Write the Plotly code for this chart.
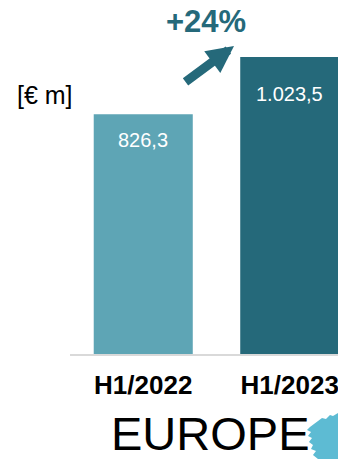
import plotly.graph_objects as go

# Revenue by half-year, Europe segment (EUR millions)
periods = ["H1/2022", "H1/2023"]
revenue = [826.3, 1023.5]
value_labels = ["826,3", "1.023,5"]
growth_label = "+24%"
unit_label = "[€ m]"
region_label = "EUROPE"

bar_colors = ["#5EA5B5", "#25697A"]
accent = "#25697A"

W, H = 338, 459
ML, MT, MB = 70, 0, 105
PW, PH = W - ML, H - MT - MB


def px(x, y):
    """Pixel position on the page -> paper coordinates."""
    return (x - ML) / PW, (H - MB - y) / PH


fig = go.Figure(
    go.Bar(
        x=periods,
        y=revenue,
        marker=dict(color=bar_colors, line=dict(width=0)),
        hoverinfo="skip",
    )
)

annotations = []
# value labels inside the bars
for p, v, lab, shift in zip(periods, revenue, value_labels, [-26, -37]):
    annotations.append(dict(
        x=p, y=v, xref="x", yref="y", text=lab, showarrow=False,
        xanchor="center", yanchor="middle", yshift=shift,
        font=dict(family="Liberation Sans, Arial", size=20, color="white"),
    ))

# growth arrow and label
tx, ty = px(234, 46)
annotations.append(dict(
    x=tx, y=ty, xref="paper", yref="paper", text="", showarrow=True,
    ax=-50, ay=37, arrowhead=2, arrowsize=0.6, arrowwidth=9,
    arrowcolor=accent, standoff=0,
))
gx, gy = px(206, 22)
annotations.append(dict(
    x=gx, y=gy, xref="paper", yref="paper", text="<b>%s</b>" % growth_label,
    showarrow=False, xanchor="center", yanchor="middle",
    font=dict(family="Liberation Sans, Arial", size=31, color=accent),
))
# unit
ux, uy = px(45, 95)
annotations.append(dict(
    x=ux, y=uy, xref="paper", yref="paper", text=unit_label, showarrow=False,
    xanchor="center", yanchor="middle",
    font=dict(family="Liberation Sans, Arial", size=25, color="black"),
))
# region title
rx, ry = px(210, 433)
annotations.append(dict(
    x=rx, y=ry, xref="paper", yref="paper", text=region_label, showarrow=False,
    xanchor="center", yanchor="middle",
    font=dict(family="Liberation Sans, Arial", size=47, color="black"),
))

# small map silhouette next to the region title
blob = [(338, 413), (333, 416), (330, 415), (326, 419), (322, 418), (318, 421),
        (314, 424), (310, 427), (307, 430), (311, 432), (308, 436), (312, 438),
        (309, 442), (313, 445), (311, 449), (316, 451), (313, 455), (318, 459),
        (338, 459)]
path = "M " + " L ".join("%.4f,%.4f" % px(x, y) for x, y in blob) + " Z"
shapes = [dict(type="path", path=path, xref="paper", yref="paper",
               fillcolor="#5DBBD3", line=dict(width=0), layer="above")]

fig.update_layout(
    width=W, height=H,
    margin=dict(l=ML, r=0, t=MT, b=MB, pad=0),
    paper_bgcolor="white", plot_bgcolor="white",
    showlegend=False,
    bargap=0.324,
    annotations=annotations,
    shapes=shapes,
    xaxis=dict(
        range=[-0.5, -0.5 + PW / 146.5],
        showgrid=False, zeroline=False,
        showline=True, linecolor="#D9D9D9", linewidth=2,
        ticks="", ticklabelstandoff=7,
        tickfont=dict(family="Liberation Sans, Arial", size=26, color="black", weight="bold"),
        fixedrange=True,
    ),
    yaxis=dict(
        range=[0, PH / 0.2903],
        visible=False, showgrid=False, zeroline=False, fixedrange=True,
    ),
)

fig.write_html("out.html", config={"displayModeBar": False})
